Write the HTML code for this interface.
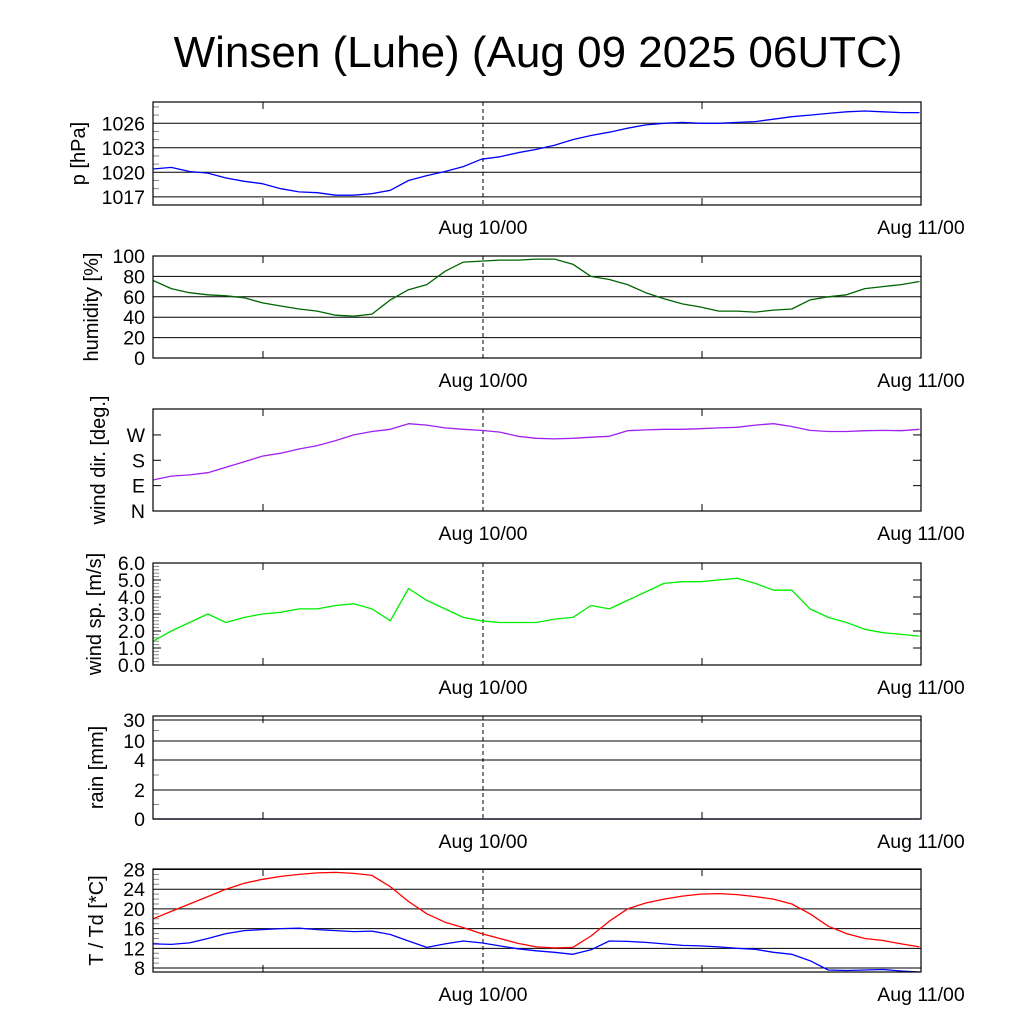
<!DOCTYPE html>
<html><head><meta charset="utf-8"><style>
body{margin:0;background:#fff}
svg{display:block;font-family:"Liberation Sans",sans-serif}
</style></head><body>
<svg id="c" width="1024" height="1024" viewBox="0 0 1024 1024">
<text x="538" y="67" font-size="44" text-anchor="middle">Winsen (Luhe) (Aug 09 2025 06UTC)</text>
</svg>
<script>
const hours=[0,1,2,3,4,5,6,7,8,9,10,11,12,13,14,15,16,17,18,19,20,21,22,23,24,25,26,27,28,29,30,31,32,33,34,35,36,37,38,39,40,41,42];
const pressure=[1020.4,1020.6,1020.1,1019.9,1019.3,1018.9,1018.6,1018,1017.6,1017.5,1017.2,1017.2,1017.4,1017.8,1019,1019.6,1020.1,1020.7,1021.6,1021.9,1022.4,1022.8,1023.3,1024,1024.5,1024.9,1025.4,1025.8,1026,1026.1,1026,1026,1026.1,1026.2,1026.5,1026.8,1027,1027.2,1027.4,1027.5,1027.4,1027.3,1027.3];
const humidity=[76,68,64,62,61,59,54,51,48,46,42,41,43,57,67,72,85,94,95,96,96,97,97,92,80,77,72,64,58,53,50,46,46,45,47,48,57,60,62,68,70,72,75];
const windDir=[110,124,128,136,155,175,195,205,220,232,250,270,282,290,310,305,295,290,286,280,265,258,256,258,262,265,285,288,290,290,292,295,297,305,310,300,286,282,282,285,286,285,290];
const windSpeed=[1.4,2.0,2.5,3.0,2.5,2.8,3.0,3.1,3.3,3.3,3.5,3.6,3.3,2.6,4.5,3.8,3.3,2.8,2.6,2.5,2.5,2.5,2.7,2.8,3.5,3.3,3.8,4.3,4.8,4.9,4.9,5.0,5.1,4.8,4.4,4.4,3.3,2.8,2.5,2.1,1.9,1.8,1.7];
const rain=hours.map(()=>0);
const temp=[18,19.5,21,22.5,24,25.2,26,26.6,27,27.3,27.4,27.2,26.8,24.5,21.5,19,17.3,16.2,15,14,13,12.3,12.1,12.2,14.5,17.5,20,21.2,22,22.6,23,23.1,22.9,22.5,22,21,19,16.5,15,14,13.6,12.9,12.3];
const dew=[12.9,12.8,13.1,14,15,15.6,15.8,16,16.1,15.8,15.6,15.4,15.5,14.8,13.5,12.2,12.9,13.5,13.1,12.5,11.9,11.5,11.2,10.8,11.7,13.5,13.4,13.2,12.9,12.6,12.5,12.3,12,11.8,11.2,10.8,9.5,7.6,7.5,7.6,7.7,7.4,7.2];

const NS='http://www.w3.org/2000/svg';
const svg=document.getElementById('c');
function mk(t,a,p){const e=document.createElementNS(NS,t);for(const k in a)e.setAttribute(k,a[k]);(p||svg).appendChild(e);return e;}
const X0=153,X1=921;
function xs(h){return X0+h*(X1-X0)/42.08;}
const rainMap=[[0,0],[2,29],[4,59],[10,78],[30,99]];
function rainY(v){for(let i=1;i<rainMap.length;i++){if(v<=rainMap[i][0]){const a=rainMap[i-1],b=rainMap[i];return a[1]+(v-a[0])/(b[0]-a[0])*(b[1]-a[1]);}}return 103;}
const panels=[
 {name:'pressure',top:102,bot:205,tx:85,min:1016.0,max:1028.6,title:'p [hPa]',ticks:[1017,1020,1023,1026],labels:['1017','1020','1023','1026'],grid:true,minor:[1016,1018,1019,1021,1022,1024,1025,1027,1028],series:[[pressure,'#0000ff']]},
 {name:'humidity',top:256,bot:358,tx:98,min:0,max:100,title:'humidity [%]',ticks:[0,20,40,60,80,100],labels:['0','20','40','60','80','100'],grid:true,minor:[],series:[[humidity,'#006400']]},
 {name:'wind-direction',top:409,bot:511,tx:105,min:0,max:362,title:'wind dir. [deg.]',ticks:[0,90,180,270],labels:['N','E','S','W'],grid:false,minor:[],series:[[windDir,'#a020f0']]},
 {name:'wind-speed',top:563,bot:665,tx:101,min:0,max:6,title:'wind sp. [m/s]',ticks:[0,1,2,3,4,5,6],labels:['0.0','1.0','2.0','3.0','4.0','5.0','6.0'],grid:false,minor:[0.2,0.4,0.6,0.8,1.2,1.4,1.6,1.8,2.2,2.4,2.6,2.8,3.2,3.4,3.6,3.8,4.2,4.4,4.6,4.8,5.2,5.4,5.6,5.8],series:[[windSpeed,'#00ee00']]},
 {name:'rain',top:716,bot:819,tx:103,rain:true,title:'rain [mm]',ticks:[0,2,4,10,30],labels:['0','2','4','10','30'],grid:true,minor:[1,3,20],series:[[rain,'#00008b']]},
 {name:'temperature',top:869,bot:972,tx:103,min:7.2,max:28.1,title:'T / Td [*C]',ticks:[8,12,16,20,24,28],labels:['8','12','16','20','24','28'],grid:true,minor:[9,10,11,13,14,15,17,18,19,21,22,23,25,26,27],series:[[temp,'#ff0000'],[dew,'#0000ff']]}
];
panels.forEach(p=>{
 const g=mk('g',{});
 
 
 const ys=v=>p.rain?p.bot-rainY(v):p.bot-(v-p.min)/(p.max-p.min)*(p.bot-p.top);
 p.ticks.forEach((t,i)=>{
  const y=ys(t);
  if(p.grid){const l=mk('line',{x1:X0,x2:X1,y1:y,y2:y,stroke:'#000','stroke-width':1},g);}
  else{mk('line',{x1:X0,x2:X0+8,y1:y,y2:y,stroke:'#000'},g);mk('line',{x1:X1-8,x2:X1,y1:y,y2:y,stroke:'#000'},g);}
  const tx=mk('text',{x:X0-8,y:y+7,'font-size':19.5,'text-anchor':'end'},g);tx.textContent=p.labels[i];
  
 });
 p.minor.forEach(t=>{const y=ys(t);mk('line',{x1:X0,x2:X0+6,y1:y,y2:y,stroke:'#888'},g);});
 [263,702].forEach(x=>{mk('line',{x1:x,x2:x,y1:p.bot,y2:p.bot-7,stroke:'#000'},g);mk('line',{x1:x,x2:x,y1:p.top,y2:p.top+7,stroke:'#000'},g);});
 mk('line',{x1:483,x2:483,y1:p.top,y2:p.bot,stroke:'#000','stroke-dasharray':'4,3'},g);
 p.series.forEach(([arr,col],k)=>{
  const d=hours.map((h,i)=>(i?'L':'M')+xs(h).toFixed(1)+','+ys(arr[i]).toFixed(1)).join('');
  const pa=mk('path',{d:d,fill:'none',stroke:col,'stroke-width':1.3,'stroke-linejoin':'round'},g);
  
  
 });
 const r=mk('rect',{x:X0,y:p.top,width:X1-X0,height:p.bot-p.top,fill:'none',stroke:'#000','stroke-width':1.2},g);
 
 const cy=(p.top+p.bot)/2;
 const tt=mk('text',{x:0,y:0,'font-size':20,'text-anchor':'middle',transform:'translate('+p.tx+','+cy+') rotate(-90)'},g);
 tt.textContent=p.title;
 [[483,'Aug 10/00'],[921,'Aug 11/00']].forEach(([x,s])=>{const t=mk('text',{x:x,y:p.bot+29,'font-size':19.5,'text-anchor':'middle'},g);t.textContent=s;});
});
</script>
</body></html>
